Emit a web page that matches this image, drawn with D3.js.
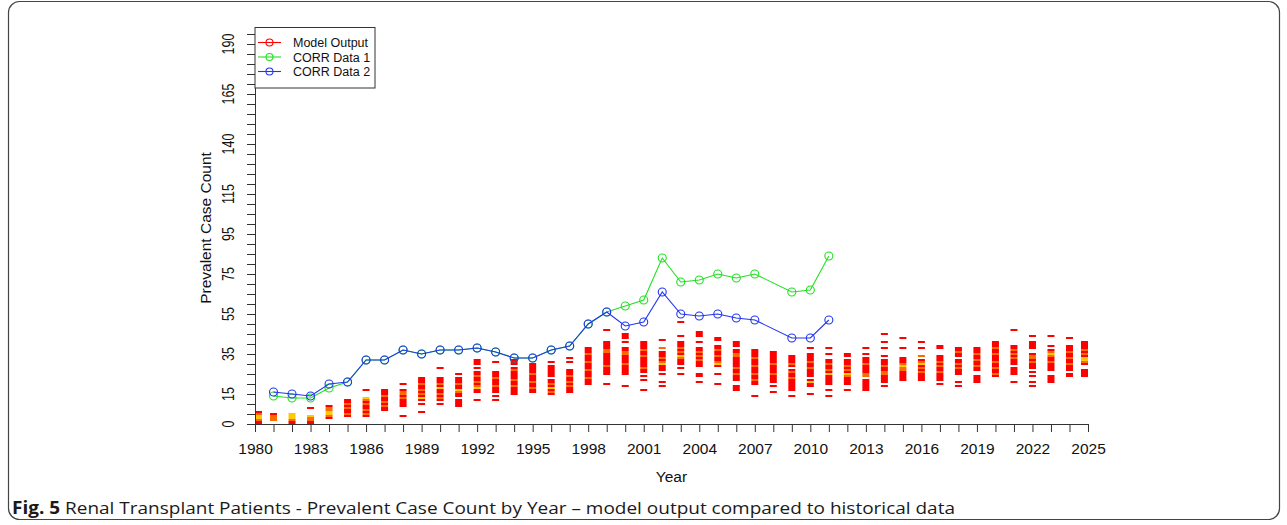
<!DOCTYPE html>
<html>
<head>
<meta charset="utf-8">
<script src="https://cdn.jsdelivr.net/npm/d3@7"></script>
<style>
  html, body { margin: 0; padding: 0; background: #fff; }
  svg { display: block; font-family: Arial, "Liberation Sans", Helvetica, sans-serif; }
</style>
</head>
<body>
<svg id="chart" width="1287" height="525"></svg>
<script>
// ---- Data -------------------------------------------------------------
const years = [1980, 1981, 1982, 1983, 1984, 1985, 1986, 1987, 1988, 1989,
               1990, 1991, 1992, 1993, 1994, 1995, 1996, 1997, 1998, 1999,
               2000, 2001, 2002, 2003, 2004, 2005, 2006, 2007, 2008, 2009,
               2010, 2011, 2012, 2013, 2014, 2015, 2016, 2017, 2018, 2019,
               2020, 2021, 2022, 2023, 2024, 2025];

// Model runs: per year, ranges of prevalent counts reached by simulation runs
const modelFilled = [
  [[0,6]], [[2,5]], [[0,5]], [[0,4],[8,8]], [[3,9]], [[4,12]], [[4,13],[17,17]],
  [[7,17]], [[4,4],[9,17],[20,20]], [[6,6],[10,10],[12,23]],
  [[10,10],[12,23],[28,28]], [[9,12],[14,23],[25,25]],
  [[12,12],[16,26],[28,28],[30,32]], [[12,12],[14,14],[16,26],[31,31]],
  [[15,28],[30,32]], [[16,30]], [[15,22],[24,29],[31,31]],
  [[16,27],[31,31],[33,33]], [[20,38]], [[20,20],[25,32],[33,41],[47,47]],
  [[19,19],[25,38],[41,41],[43,45]], [[17,17],[22,22],[24,24],[26,41]],
  [[19,19],[21,21],[25,25],[27,36],[38,38],[42,42]],
  [[25,25],[28,28],[30,41],[44,44],[51,51]],
  [[21,21],[24,25],[29,38],[41,41],[44,46]],
  [[20,20],[25,25],[29,39],[42,43]], [[17,19],[22,37],[39,41]],
  [[14,14],[20,37]], [[16,16],[19,19],[21,36]], [[14,14],[17,27],[29,34]],
  [[15,15],[19,22],[24,35],[38,38]], [[14,14],[17,17],[20,32],[35,35],[38,38]],
  [[17,17],[20,32],[34,35]], [[17,22],[24,33],[35,35],[38,38]],
  [[19,19],[21,32],[34,34],[38,38],[41,41],[45,45]],
  [[22,33],[38,38],[43,43]], [[22,32],[34,34],[38,38],[41,41]],
  [[20,20],[22,34],[38,39]], [[19,19],[21,21],[25,32],[34,38]],
  [[21,24],[27,38]], [[24,41]], [[21,21],[25,28],[30,39],[47,47]],
  [[19,19],[21,21],[24,24],[26,26],[28,35],[38,41],[44,44]],
  [[21,24],[27,37],[39,39],[44,44]], [[24,25],[27,39],[43,43]],
  [[24,27],[30,41]]
];
// counts reached by many runs (warmer colour)
const modelWarm = [
  [5,2], [4,3,2], [2], [2,3], [8,7,4], [10,8,5], [12,10,7,5], [14,11,9],
  [16,15,13], [20,17,15], [20,15,13], [20,16], [24,21,19], [23,19],
  [27,22,19], [25,21,18], [20,16], [24,21,19], [35,31,27,23], [37,36,29],
  [36,35,30], [37,34,28], [38,33,31], [38,36,33], [36,34,32], [37,34,31],
  [35,34,28,25], [33,29,25,22], [30,25], [30,26,23], [31,28], [30,27],
  [29,27,24], [30,25,24], [29,26,25], [30,28,27], [34,31,28,26], [31,29,26],
  [36,30,28], [35,32,29], [38,35,31,28,25], [37,35,33], [34,33,31],
  [36,34,31], [36,33,30], [37,35,31]
];
// counts reached by the most runs (hottest colour)
const modelHot = [
  [3,4], [], [3,4,5], [4], [5,6], [], [13], [], [], [13], [18], [17], [18],
  [], [], [], [18], [], [], [], [], [], [30], [34], [], [30], [], [], [], [],
  [21], [25], [25], [], [], [29], [30], [], [], [], [], [], [], [35], [],
  [33,32]
];

const corr1Years  = [1981, 1982, 1983, 1984, 1985, 1986, 1987, 1988, 1989, 1990,
                     1991, 1992, 1993, 1994, 1995, 1996, 1997, 1998, 1999, 2000,
                     2001, 2002, 2003, 2004, 2005, 2006, 2007, 2009, 2010, 2011];
const corr1Values = [14, 13, 13, 18, 21, 32, 32, 37, 35, 37,
                     37, 38, 36, 33, 33, 37, 39, 50, 56, 59,
                     62, 83, 71, 72, 75, 73, 75, 66, 67, 84];

const corr2Years  = [1981, 1982, 1983, 1984, 1985, 1986, 1987, 1988, 1989, 1990,
                     1991, 1992, 1993, 1994, 1995, 1996, 1997, 1998, 1999, 2000,
                     2001, 2002, 2003, 2004, 2005, 2006, 2007, 2009, 2010, 2011];
const corr2Values = [16, 15, 14, 20, 21, 32, 32, 37, 35, 37,
                     37, 38, 36, 33, 33, 37, 39, 50, 56, 49,
                     51, 66, 55, 54, 55, 53, 52, 43, 43, 52];

const yTickLabels = [0, 15, 35, 55, 75, 95, 115, 140, 165, 190];
const xTickLabels = [1980, 1983, 1986, 1989, 1992, 1995, 1998, 2001, 2004,
                     2007, 2010, 2013, 2016, 2019, 2022, 2025];
const legendLabels = ["Model Output", "CORR Data 1", "CORR Data 2"];

// ---- Styles -------------------------------------------------------------
const colRed = "#ff0000", colWarm = "#ff6a00", colHot = "#ffc800";
const colGreen = "#22e022", colBlue = "#2236f0";
const axisColor = "#333";

// ---- Scales -------------------------------------------------------------
const svg = d3.select("#chart");
const x = d3.scaleLinear().domain([1980, 2025]).range([255, 1088]);
const y = d3.scaleLinear().domain([0, 195]).range([424, 34]);

// outer frame
svg.append("rect")
  .attr("x", 8.5).attr("y", 1.5).attr("width", 1271).attr("height", 518)
  .attr("rx", 11).attr("ry", 11)
  .attr("fill", "none").attr("stroke", "#444").attr("stroke-width", 1.2);

// ---- Model output columns ----------------------------------------------
const cells = [];
years.forEach((yr, i) => {
  modelFilled[i].forEach(([lo, hi]) => {
    for (let v = lo; v <= hi; v++) {
      let c = colRed;
      if (modelHot[i].includes(v)) c = colHot;
      else if (modelWarm[i].includes(v)) c = colWarm;
      cells.push({ yr, v, c });
    }
  });
});
const cellW = 7;
svg.append("g").selectAll("rect").data(cells).join("rect")
  .attr("x", d => Math.min(Math.max(x(d.yr) - cellW / 2, x(1980)), x(2025) - cellW))
  .attr("y", d => y(d.v + 0.5))
  .attr("width", cellW)
  .attr("height", d => y(d.v - 0.5) - y(d.v + 0.5))
  .attr("fill", d => d.c);

// ---- Axes ---------------------------------------------------------------
const yAxis = svg.append("g").attr("transform", `translate(${x(1980)},0)`)
  .call(d3.axisLeft(y).tickValues(d3.range(0, 196, 5)).tickSize(8).tickSizeOuter(0).tickFormat(""));
yAxis.select(".domain").attr("stroke", axisColor);
yAxis.selectAll(".tick line").attr("stroke", axisColor);

svg.append("g").selectAll("text").data(yTickLabels).join("text")
  .attr("transform", d => `translate(233.5,${y(d)}) scale(1.36,1) rotate(-90)`)
  .attr("text-anchor", "middle")
  .attr("font-size", 12.5)
  .attr("fill", "#111")
  .text(d => d);

const xAxis = svg.append("g").attr("transform", `translate(0,${y(0)})`)
  .call(d3.axisBottom(x).tickValues(years).tickSize(8).tickSizeOuter(0)
    .tickFormat(d => xTickLabels.includes(d) ? d : ""));
xAxis.select(".domain").attr("stroke", axisColor);
xAxis.selectAll(".tick line").attr("stroke", axisColor);
xAxis.selectAll(".tick text").attr("font-size", 15.5).attr("fill", "#111")
  .attr("font-family", "Arial, 'Liberation Sans', sans-serif").attr("dy", "1.25em");

// axis titles
svg.append("text")
  .attr("transform", `translate(211,228) rotate(-90)`)
  .attr("text-anchor", "middle").attr("font-size", 15.5).attr("fill", "#111")
  .text("Prevalent Case Count");
svg.append("text")
  .attr("x", (x(1980) + x(2025)) / 2).attr("y", 482)
  .attr("text-anchor", "middle").attr("font-size", 15.5).attr("fill", "#111")
  .text("Year");

// ---- Observed series -----------------------------------------------------
function drawSeries(yrs, vals, color) {
  const pts = yrs.map((yr, i) => [yr, vals[i]]);
  svg.append("path").datum(pts)
    .attr("fill", "none").attr("stroke", color).attr("stroke-width", 1.1)
    .attr("d", d3.line().x(d => x(d[0])).y(d => y(d[1])));
  svg.append("g").selectAll("circle").data(pts).join("circle")
    .attr("cx", d => x(d[0])).attr("cy", d => y(d[1])).attr("r", 4)
    .attr("fill", "none").attr("stroke", color).attr("stroke-width", 1.1);
}
drawSeries(corr1Years, corr1Values, colGreen);
drawSeries(corr2Years, corr2Values, colBlue);

// ---- Legend -------------------------------------------------------------
const legendColors = [colRed, colGreen, colBlue];
const lg = svg.append("g");
lg.append("rect").attr("x", 255).attr("y", 27.5).attr("width", 120).attr("height", 60.5)
  .attr("fill", "#fff").attr("stroke", axisColor).attr("stroke-width", 1);
legendLabels.forEach((lab, i) => {
  const ly = 42.5 + i * 14.5;
  lg.append("line").attr("x1", 258).attr("x2", 281).attr("y1", ly).attr("y2", ly)
    .attr("stroke", legendColors[i]).attr("stroke-width", 1.1);
  lg.append("circle").attr("cx", 269.5).attr("cy", ly).attr("r", 3.5)
    .attr("fill", "none").attr("stroke", legendColors[i]).attr("stroke-width", 1.1);
  lg.append("text").attr("x", 293).attr("y", ly).attr("dy", "0.36em")
    .attr("font-size", 12.5).attr("fill", "#111").text(lab);
});

// ---- Caption ------------------------------------------------------------
const cap = svg.append("text").attr("x", 12).attr("y", 514)
  .attr("font-family", "'Open Sans', 'Noto Sans', sans-serif").attr("font-size", 17)
  .attr("fill", "#1a1a1a")
  .attr("textLength", 943).attr("lengthAdjust", "spacingAndGlyphs");
cap.append("tspan").attr("font-weight", "bold").text("Fig. 5");
cap.append("tspan").text(" Renal Transplant Patients - Prevalent Case Count by Year \u2013 model output compared to historical data");
</script>
</body>
</html>
